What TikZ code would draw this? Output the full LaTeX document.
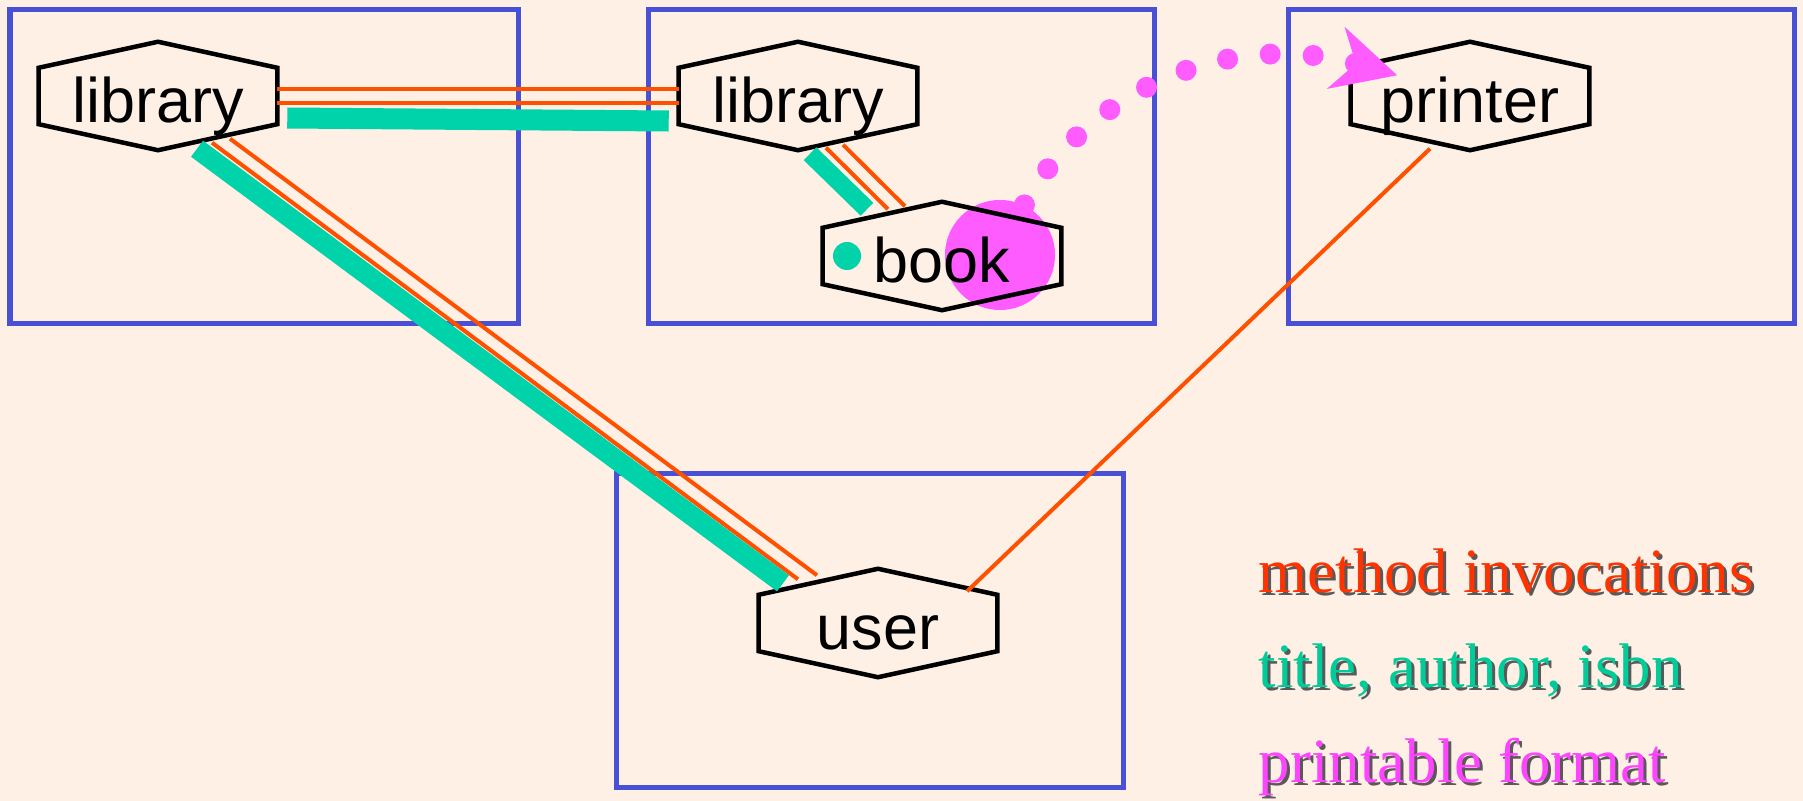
\documentclass[tikz,border=0pt]{standalone}
\usepackage{fontspec}
\setmainfont{Liberation Sans}
\newfontfamily\legendfont{Liberation Serif}
\usetikzlibrary{arrows.meta}

\definecolor{paper}{RGB}{254,240,229}
\definecolor{hostblue}{RGB}{72,80,214}
\definecolor{callred}{RGB}{255,80,0}
\definecolor{datagreen}{RGB}{0,210,170}
\definecolor{printpink}{RGB}{255,92,255}
\definecolor{legendred}{RGB}{255,51,0}
\definecolor{legendgreen}{RGB}{0,204,153}
\definecolor{legendpink}{RGB}{255,68,255}

\tikzset{
  hostbox/.style={draw=hostblue, line width=0.05cm},
  objbox/.style={rectangle, minimum width=2.37cm, minimum height=0.55cm, inner sep=0pt,
    text height=0.52cm, text depth=0pt, font=\fontsize{17.9}{20}\selectfont},
  hexline/.style={draw=black, line width=0.045cm, line join=miter},
  call/.style={draw=callred, line width=0.04cm},
  data/.style={draw=datagreen, line width=0.2cm},
  legend/.style={anchor=base west, inner sep=0pt, font=\legendfont\fontsize{17.9}{20}\selectfont},
}

\begin{document}
\begin{tikzpicture}[x=0.01cm,y=-0.01cm]
 \fill[paper] (0,0) rectangle (1803,801);
 \useasboundingbox (0,0) rectangle (1803,801);
 % hosts
 \foreach \l/\t/\r/\b in {10/10/518/324, 648/10/1154/324, 1288/10/1794/324, 616/474/1123/788}
   \draw[hostbox] (\l,\t) rectangle (\r,\b);
 % printable format blob under the book
 \node[circle, fill=printpink, minimum size=1.1cm, inner sep=0pt] (fmt) at (1000,255) {};
 % objects
 \node[objbox] (lib1) at (158,96) {library};
 \node[objbox] (lib2) at (798,96) {library};
 \node[objbox] (book) at (942,256) {book};
 \node[objbox] (printer) at (1470,96) {printer};
 \node[objbox] (user) at (878,623) {user};
 \foreach \n in {lib1,lib2,book,printer,user}
   \draw[hexline] (\n.north west) -- ([yshift=0.26cm]\n.north) -- (\n.north east)
     -- (\n.south east) -- ([yshift=-0.26cm]\n.south) -- (\n.south west) -- cycle;
 % library -- library
 \draw[call] ([yshift=0.07cm]lib1.east) -- ([yshift=0.07cm]lib2.west);
 \draw[call] ([yshift=-0.07cm]lib1.east) -- ([yshift=-0.07cm]lib2.west);
 \draw[data, line width=0.21cm] ([xshift=0.1cm,yshift=-0.22cm]lib1.east) -- ([xshift=-0.1cm,yshift=-0.25cm]lib2.west);
 % library -- user
 \draw[call] ([xshift=0.54cm,yshift=-0.185cm]lib1.south) -- ([xshift=-0.8cm,yshift=0.155cm]user.north);
 \draw[call] ([xshift=0.72cm,yshift=-0.145cm]lib1.south) -- ([xshift=-0.61cm,yshift=0.195cm]user.north);
 \draw[data] ([xshift=0.39cm,yshift=-0.245cm]lib1.south) -- ([xshift=-0.95cm,yshift=0.115cm]user.north);
 % library -- book
 \draw[call] ([xshift=0.28cm,yshift=-0.235cm]lib2.south) -- ([xshift=-0.54cm,yshift=0.185cm]book.north);
 \draw[call] ([xshift=0.45cm,yshift=-0.205cm]lib2.south) -- ([xshift=-0.37cm,yshift=0.215cm]book.north);
 \draw[data, line width=0.18cm] ([xshift=0.12cm,yshift=-0.295cm]lib2.south) -- ([xshift=-0.75cm,yshift=0.185cm]book.north);
 % printer -- user
 \draw[call] ([xshift=-0.4cm,yshift=-0.245cm]printer.south) -- ([xshift=0.89cm,yshift=0.035cm]user.north);
 % book data dot
 \node[circle, fill=datagreen, minimum size=0.28cm, inner sep=0pt] (isbn) at (847,256) {};
 % printable format sent to the printer
 \draw[printpink, line width=0.21cm, line cap=round, dash pattern=on 0pt off 0.43cm,
   -{Stealth[length=0.63cm, width=0.63cm, inset=0.2cm]}]
   (fmt.64) .. controls (1080,100) and (1220,25) .. ([xshift=0.465cm,yshift=-0.075cm]printer.north west);
 % legend
 \node[legend, text=black!65] (callshade) at (1261,596) {method invocations};
 \node[legend, text=legendred] (calltext) at (1258,593) {method invocations};
 \node[legend, text=black!65] (datashade) at (1261,691) {title, author, isbn};
 \node[legend, text=legendgreen] (datatext) at (1258,688) {title, author, isbn};
 \node[legend, text=black!65] (fmtshade) at (1261,786) {printable format};
 \node[legend, text=legendpink] (fmttext) at (1258,783) {printable format};
\end{tikzpicture}
\end{document}
